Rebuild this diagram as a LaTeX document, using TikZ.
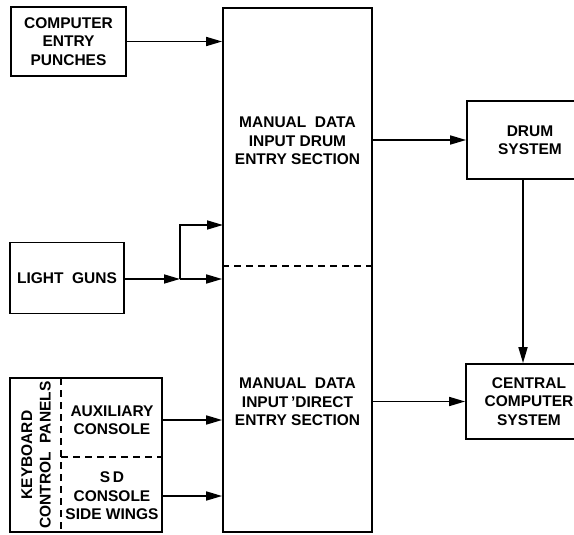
\documentclass[tikz,border=0pt]{standalone}
\usepackage{fontspec}
\setmainfont{Liberation Sans}
\usetikzlibrary{arrows.meta,calc}
\tikzset{
  blk/.style={draw, line width=1.8pt, rectangle, inner sep=0pt, align=center,
     font=\fontsize{15.5}{18.5}\selectfont\bfseries},
  lbl/.style={inner sep=0pt, align=center, font=\fontsize{15.5}{18.5}\selectfont\bfseries},
  arr/.style={line width=1.7pt, -{Triangle[length=16pt,width=9pt]}},
  dsh/.style={line width=1.6pt, dash pattern=on 7pt off 5pt}
}
\begin{document}
\begin{tikzpicture}[x=1pt,y=-1pt]
\useasboundingbox (0,0) rectangle (574,535);
\begin{scope}
\clip (0,0) rectangle (574,535);
% boxes
\node[blk, minimum width=115pt, minimum height=69pt] (cep) at (68.5,41.5) {COMPUTER\\ENTRY\\PUNCHES};
\node[blk, minimum width=149pt, minimum height=524pt] (main) at (297.5,270) {};
\node[lbl] (drumsec) at (297.5,141) {MANUAL\ \ DATA\\INPUT DRUM\\ENTRY SECTION};
\node[lbl] (dirsec) at (297.5,402) {MANUAL\ \ DATA\\INPUT\,'DIRECT\\ENTRY SECTION};
\node[blk, minimum width=114pt, minimum height=71pt] (lg) at (67,278) {LIGHT\ \ GUNS};
\node[blk, minimum width=152pt, minimum height=154pt] (kb) at (86,455) {};
\node[blk, minimum width=126pt, minimum height=78pt] (drum) at (530,140) {DRUM\\SYSTEM};
\node[blk, minimum width=126pt, minimum height=75pt] (ccs) at (529,401.5) {CENTRAL\\COMPUTER\\SYSTEM};
\end{scope}
% dashed divisions
\draw[dsh] (main.west |- 0,266) -- (main.east |- 0,266);
\coordinate (kbtop) at (61,378);
\coordinate (kbbot) at (61,532);
\draw[dsh] (kbtop) -- (kbbot);
\coordinate (kbmid) at (61,457);
\draw[dsh] (kbmid) -- (kbmid -| kb.east);
% keyboard texts
\node[lbl, rotate=90] (kbl) at (36,455) {KEYBOARD\\CONTROL\ \ PANELS};
\node[lbl] (aux) at (112,420) {AUXILIARY\\CONSOLE};
\node[lbl] (sd) at (112,496) {S\,D\\CONSOLE\\SIDE WINGS};
% connectors
\draw[arr] (cep.east) -- (cep.east -| main.west);
\coordinate (br) at (180,279);
\coordinate (up) at (223,225);
\draw[arr] (lg.east |- br) -- (br);
\draw[arr] (br) -- (br -| main.west);
\draw[arr] (br) -- (br |- up) -- (up);
\draw[arr] (kb.east |- aux) -- (aux -| main.west);
\draw[arr] (kb.east |- sd) -- (sd -| main.west);
\draw[arr] (main.east |- drum.west) -- (drum.west);
\draw[arr] (main.east |- ccs.west) -- (ccs.west);
\draw[arr] ([xshift=-7pt]drum.south) -- ([xshift=-6pt]ccs.north);
\end{tikzpicture}
\end{document}
